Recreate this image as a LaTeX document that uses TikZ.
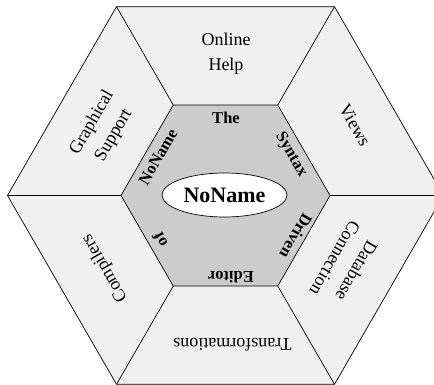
\documentclass[tikz,border=0pt]{standalone}
\usepackage{fontspec}
\setmainfont{Liberation Serif}
\usetikzlibrary{shapes.geometric}
\definecolor{outerfill}{HTML}{F0F0F0}
\definecolor{innerfill}{HTML}{CCCCCC}
\begin{document}
\begin{tikzpicture}[x=1pt,y=-1pt,
  edge/.style={draw=black,line width=0.7pt,line join=miter},
  outerlbl/.style={font=\fontsize{18}{25}\selectfont,align=center,inner sep=0pt},
  innerlbl/.style={font=\fontsize{16.5}{19}\selectfont\bfseries,inner sep=0pt},
  centerlbl/.style={ellipse,draw=black,fill=white,line width=0.7pt,minimum width=125pt,minimum height=44pt,inner sep=0pt,font=\fontsize{22}{26}\selectfont\bfseries}]
\useasboundingbox (0,0) rectangle (434,385);
\clip (0,0) rectangle (434,385);
% outer hexagon vertices
\coordinate (C) at (225.5,195.5);
\coordinate (O0) at (443.5,195.5);
\coordinate (O1) at (334.5,6.7);
\coordinate (O2) at (116.5,6.7);
\coordinate (O3) at (7.5,195.5);
\coordinate (O4) at (116.5,384.3);
\coordinate (O5) at (334.5,384.3);
% inner hexagon vertices
\coordinate (I0) at (330,195.5);
\coordinate (I1) at (277.75,105);
\coordinate (I2) at (173.25,105);
\coordinate (I3) at (121,195.5);
\coordinate (I4) at (173.25,286);
\coordinate (I5) at (277.75,286);
\path[edge,fill=outerfill] (O0) -- (O1) -- (O2) -- (O3) -- (O4) -- (O5) -- cycle;
\foreach \k in {0,...,5}{\draw[edge] (I\k) -- (O\k);}
\path[edge,fill=innerfill] (I0) -- (I1) -- (I2) -- (I3) -- (I4) -- (I5) -- cycle;
% outer labels
\node[outerlbl] (online) at (226,54) {Online\\Help};
\node[outerlbl,rotate=-60] (views) at (355,125) {Views};
\node[outerlbl,rotate=-120] (dbconn) at (346,264.5) {Database\\Connection};
\node[outerlbl,rotate=180] (transf) at (232.5,345) {Transformations};
\node[outerlbl,rotate=120] (compilers) at (105,268) {Compilers};
\node[outerlbl,rotate=60] (graph) at (103,129) {Graphical\\Support};
% inner labels
\node[innerlbl] (the) at (226,118) {The};
\node[innerlbl,rotate=-60] (syntax) at (291,155) {Syntax};
\node[innerlbl,rotate=-120] (driven) at (296,236) {Driven};
\node[innerlbl,rotate=180] (editor) at (231,277) {Editor};
\node[innerlbl,rotate=120] (of) at (160,240) {of};
\node[innerlbl,rotate=60] (nonamein) at (158,157) {NoName};
% centre
\node[centerlbl] (center) at (224.5,195) {NoName};
\end{tikzpicture}
\end{document}
